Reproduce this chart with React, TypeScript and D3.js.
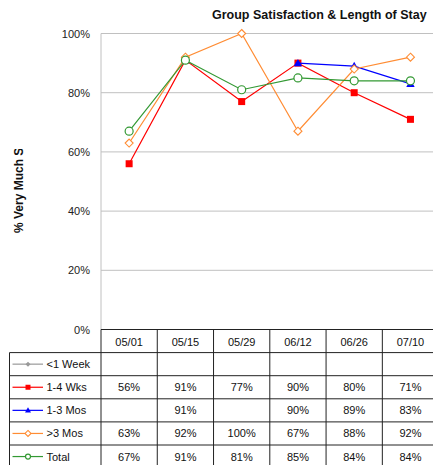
import React from "react";
import * as d3 from "d3";

const dates = ["05/01", "05/15", "05/29", "06/12", "06/26", "07/10"];
const seriesNames = ["<1 Week", "1-4 Wks", "1-3 Mos", ">3 Mos", "Total"];
const lessWeek: (number | null)[] = [null, null, null, null, null, null];
const wks1to4: (number | null)[] = [56, 91, 77, 90, 80, 71];
const mos1to3: (number | null)[] = [null, 91, null, 90, 89, 83];
const mosOver3: (number | null)[] = [63, 92, 100, 67, 88, 92];
const total: (number | null)[] = [67, 91, 81, 85, 84, 84];
const yTicks = [0, 20, 40, 60, 80, 100];

const seriesValues = [lessWeek, wks1to4, mos1to3, mosOver3, total];
const colors = ["#999999", "#ff0000", "#0000ff", "#ff8c33", "#339933"];
const shapes = ["diamondFill", "square", "triangle", "diamond", "circle"];

const font = "'Liberation Sans', Arial, sans-serif";

function Marker({ shape, x, y, color, s }: { shape: string; x: number; y: number; color: string; s: number }) {
  if (shape === "square")
    return <rect x={x - s / 2} y={y - s / 2} width={s} height={s} fill={color} />;
  if (shape === "triangle") {
    const h = s;
    return (
      <path
        d={`M${x},${y - h * 0.6}L${x + s * 0.6},${y + h * 0.45}L${x - s * 0.6},${y + h * 0.45}Z`}
        fill={color}
      />
    );
  }
  if (shape === "circle")
    return <circle cx={x} cy={y} r={s / 2} fill="white" stroke={color} strokeWidth={1.2} />;
  const r = s / 2 + 0.5;
  const d = `M${x},${y - r}L${x + r},${y}L${x},${y + r}L${x - r},${y}Z`;
  if (shape === "diamondFill") return <path d={d} fill={color} />;
  return <path d={d} fill="white" stroke={color} strokeWidth={1.1} />;
}

export default function App() {
  const W = 433;
  const H = 465;
  const left = 101;
  const right = 438.6;
  const top = 33.5;
  const bottom = 329.5;
  const rowH = 23.1;
  const tableLeft = 9.5;

  const x = d3.scaleBand<string>().domain(dates).range([left, right]);
  const y = d3.scaleLinear().domain([0, 100]).range([bottom, top]);
  const cx = (d: string) => (x(d) ?? 0) + x.bandwidth() / 2;

  const line = d3
    .line<number | null>()
    .defined((v) => v !== null)
    .x((_, i) => cx(dates[i]))
    .y((v) => y(v as number));

  const rowTop = (i: number) => bottom + rowH * (i + 1);

  return (
    <svg
      width={W}
      height={H}
      style={{ position: "absolute", left: 0, top: 0, background: "white" }}
      fontFamily={font}
    >
      <defs>
        <clipPath id="ylab">
          <rect x={0} y={149} width={40} height={120} />
        </clipPath>
      </defs>
      <text x={212} y={19} fontSize={12.5} fontWeight="bold" fill="#111">
        Group Satisfaction &amp; Length of Stay
      </text>

      {/* y axis title */}
      <g clipPath="url(#ylab)">
        <text
          transform={`translate(23,233) rotate(-90)`}
          fontSize={12}
          fontWeight="bold"
          fill="#111"
        >
          % Very Much Satisfied
        </text>
      </g>

      {/* gridlines */}
      {yTicks.map((t) => (
        <g key={t}>
          {t > 0 && <line x1={left} x2={right} y1={y(t)} y2={y(t)} stroke="#c0c0c0" />}
          <text x={90} y={y(t) + 4} textAnchor="end" fontSize={11} fill="#222">
            {t}%
          </text>
        </g>
      ))}
      <line x1={left} x2={left} y1={top} y2={bottom} stroke="#c0c0c0" />

      {/* series */}
      {seriesValues.map((vals, si) => (
        <g key={si}>
          <path d={line(vals) ?? ""} fill="none" stroke={colors[si]} strokeWidth={1.2} />
          {vals.map((v, i) =>
            v === null ? null : (
              <Marker key={i} shape={shapes[si]} x={cx(dates[i])} y={y(v)} color={colors[si]} s={si === 4 ? 8 : 7} />
            )
          )}
        </g>
      ))}

      {/* data table */}
      <g stroke="#222" strokeWidth={1} fill="none">
        <line x1={left} x2={right} y1={bottom} y2={bottom} />
        {seriesNames.map((_, i) => (
          <line key={i} x1={tableLeft} x2={right} y1={rowTop(i)} y2={rowTop(i)} />
        ))}
        <line x1={tableLeft} x2={tableLeft} y1={rowTop(0)} y2={H + 10} />
        {dates.map((d) => (
          <line key={d} x1={x(d)} x2={x(d)} y1={bottom} y2={H + 10} />
        ))}
        <line x1={right} x2={right} y1={bottom} y2={H + 10} />
      </g>
      {dates.map((d) => (
        <text key={d} x={cx(d)} y={bottom + 16} textAnchor="middle" fontSize={11} fill="#111">
          {d}
        </text>
      ))}
      {seriesNames.map((name, si) => {
        const my = rowTop(si) + rowH / 2;
        return (
          <g key={name}>
            <line x1={12.5} x2={43} y1={my} y2={my} stroke={colors[si]} strokeWidth={1.2} />
            <Marker shape={shapes[si]} x={28} y={my} color={colors[si]} s={si === 0 ? 4 : 5} />
            <text x={46.5} y={my + 4} fontSize={11} fill="#111">
              {name}
            </text>
            {seriesValues[si].map((v, i) =>
              v === null ? null : (
                <text key={i} x={cx(dates[i])} y={my + 4} textAnchor="middle" fontSize={11} fill="#111">
                  {v}%
                </text>
              )
            )}
          </g>
        );
      })}
    </svg>
  );
}
